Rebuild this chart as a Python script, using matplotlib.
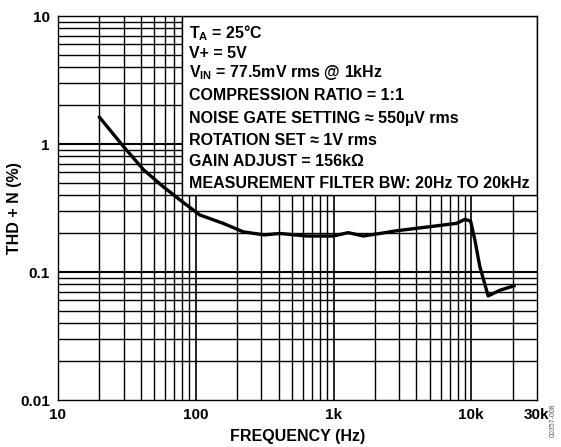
import numpy as np
import matplotlib
matplotlib.use('Agg')
import matplotlib.pyplot as plt
from matplotlib.patches import Rectangle

plt.rcParams['font.family'] = ['Liberation Sans', 'DejaVu Sans']
plt.rcParams['font.weight'] = 'bold'

# THD + N curve
freq = [20, 30, 42, 58, 77, 107, 158, 221, 313, 408, 638, 995, 1280, 1645,
        2174, 2872, 5010, 7820, 9000, 9890, 10620, 11540, 13260, 16140, 20400]
thdn = [1.62, 0.95, 0.626, 0.464, 0.365, 0.279, 0.24, 0.206, 0.195, 0.2,
        0.191, 0.191, 0.203, 0.191, 0.2, 0.21, 0.226, 0.24, 0.258, 0.25,
        0.178, 0.11, 0.065, 0.072, 0.078]

x_ticks = [10, 100, 1000, 10000, 30000]
x_labels = ['10', '100', '1k', '10k', '30k']
y_ticks = [0.01, 0.1, 1, 10]
y_labels = ['0.01', '0.1', '1', '10']

notes = [r'T$_\mathregular{A}$ = 25°C',
         'V+ = 5V',
         r'V$_\mathregular{IN}$ = 77.5mV rms @ 1kHz',
         'COMPRESSION RATIO = 1:1',
         'NOISE GATE SETTING ≈ 550µV rms',
         'ROTATION SET ≈ 1V rms',
         'GAIN ADJUST = 156kΩ',
         'MEASUREMENT FILTER BW: 20Hz TO 20kHz']

FS = 11.5

fig = plt.figure(figsize=(5.61, 4.47), dpi=100)
ax = fig.add_axes([58/561, 1 - 400/447, 479/561, 384/447])
ax.set_xscale('log')
ax.set_yscale('log')
ax.set_xlim(10, 30000)
ax.set_ylim(0.01, 10)

# grid lines at every 1..9 step of each decade
for d in [10, 100, 1000, 10000]:
    for m in range(1, 10):
        v = d * m
        if 10 < v < 30000:
            ax.axvline(v, color='black', lw=1.2 if m == 1 else 1.0, zorder=1)
for d in [0.01, 0.1, 1]:
    for m in range(1, 10):
        v = d * m
        if 0.01 < v < 10:
            ax.axhline(v, color='black', lw=1.5 if m == 1 else 1.0, zorder=1)

# white notes box over the grid
ax.add_patch(Rectangle((80, 0.4), 30000 - 80, 10 - 0.4, facecolor='white',
                       edgecolor='black', lw=1.0, zorder=2))

ax.plot(freq, thdn, color='black', lw=2.4, zorder=3)

ys = [33, 53, 73, 96, 118, 140, 162, 183]
for t, yp in zip(notes, ys):
    fig.text(189/561, 1 - yp/447, t, fontsize=FS, fontweight='bold',
             va='center', ha='left')

ax.set_xticks(x_ticks)
ax.set_xticklabels(x_labels)
ax.set_yticks(y_ticks)
ax.set_yticklabels(y_labels)
ax.minorticks_off()
ax.tick_params(length=0, labelsize=11, pad=6)
for lab in ax.get_xticklabels() + ax.get_yticklabels():
    lab.set_fontweight('bold')
for s in ax.spines.values():
    s.set_linewidth(1.0)
    s.set_zorder(4)

ax.set_xlabel('FREQUENCY (Hz)', fontsize=FS, fontweight='bold', labelpad=5)
ax.set_ylabel('THD + N (%)', fontsize=FS, fontweight='bold')
ax.yaxis.set_label_coords(-0.076, 0.5)

fig.text(553/561, 1 - 420/447, '00357-008', rotation=90, fontsize=5,
         color='#555555', ha='center', va='center', fontweight='normal')

fig.savefig('out.png', dpi=100)
